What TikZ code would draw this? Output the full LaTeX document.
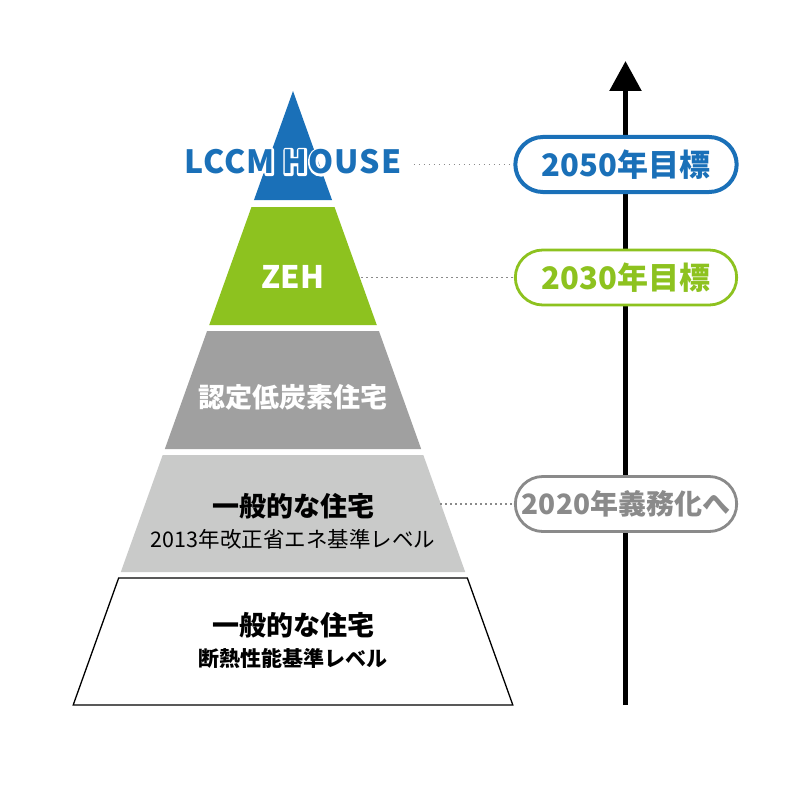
\documentclass[tikz,border=0pt]{standalone}
\usepackage{fontspec}
\setmainfont{Noto Sans CJK JP}
\usepackage{tikz}
\usetikzlibrary{arrows.meta,positioning,shapes.misc}
\definecolor{lccmblue}{HTML}{1A70B8}
\definecolor{zehgreen}{HTML}{8DC21F}
\definecolor{darkband}{HTML}{A0A0A0}
\definecolor{lightband}{HTML}{C9CAC9}
\definecolor{goalgray}{HTML}{8A8A8A}
\newcommand\halotext[1]{\special{pdf:literal direct q 2 Tr 4.5 w 1 j}#1\special{pdf:literal direct Q}}

\begin{document}
\begin{tikzpicture}[x=1pt,y=-1pt,
	goal/.style={rounded rectangle, draw, fill=white, minimum width=228pt, minimum height=55pt, font=\fontsize{31}{31}\selectfont\bfseries},
	guide/.style={draw=goalgray, line width=1.6pt, dash pattern=on 1.6pt off 3.4pt},
	label/.style={font=\fontsize{27}{27}\selectfont\bfseries},
	logo/.style={font=\fontsize{32}{32}\selectfont\bfseries\addfontfeature{LetterSpace=3}}]
	\useasboundingbox[fill=white] (0,0) rectangle (800,789);
	% pyramid bands, apex at (293,91)
	\foreach \ytop/\ybot/\col in {91/200/lccmblue, 207/325/zehgreen, 331/449/darkband, 455/572/lightband}
		\fill[\col] ({293-0.358*(\ytop-91)},\ytop) -- ({293+0.358*(\ytop-91)},\ytop)
			-- ({293+0.358*(\ybot-91)},\ybot) -- ({293-0.358*(\ybot-91)},\ybot) -- cycle;
	\draw[line width=1.3pt] ({293-0.358*(578-91)},578) -- ({293+0.358*(578-91)},578)
		-- ({293+0.358*(705-91)},705) -- ({293-0.358*(705-91)},705) -- cycle;
	% labels
	\node[logo, text=white] (lccmhalo) at (293,162) {\halotext{LCCM HOUSE}};
	\node[logo, text=lccmblue] (lccm) at (293,162) {LCCM HOUSE};
	\node[label, font=\fontsize{31}{31}\selectfont\bfseries, text=white] (zeh) at (293,277) {ZEH};
	\node[label, text=white] (lowc) at (293,397) {認定低炭素住宅};
	\node[label] (std13) at (293,506) {一般的な住宅};
	\node[font=\fontsize{21.5}{21.5}\selectfont] (std13sub) [below=3pt of std13] {2013年改正省エネ基準レベル};
	\node[label] (base) at (293,625) {一般的な住宅};
	\node[font=\fontsize{21}{21}\selectfont\bfseries] (basesub) [below=3pt of base] {断熱性能基準レベル};
	% time axis
	\coordinate (axisbot) at (625.5,705);
	\coordinate (axistop) at (625.5,61);
	\draw[line width=5.5pt, -{Triangle[width=31pt,length=30pt]}] (axisbot) -- (axistop);
	\node[goal, draw=lccmblue, line width=4pt, text=lccmblue] (g2050) at (626,164.5) {2050年目標};
	\node[goal, draw=zehgreen, line width=2.8pt, text=zehgreen] (g2030) at (626,277.5) {2030年目標};
	\node[goal, draw=goalgray, line width=2.8pt, text=goalgray, font=\fontsize{28}{28}\selectfont\bfseries] (g2020) at (626,504) {2020年義務化へ};
	% dotted guides
	\coordinate (zehedge) at (361,277.5);
	\coordinate (stdedge) at (440,504);
	\draw[guide, shorten <=9pt] (lccm.east |- g2050.west) -- (g2050.west);
	\draw[guide] (zehedge) -- (g2030.west);
	\draw[guide] (stdedge) -- (g2020.west);
\end{tikzpicture}
\end{document}
